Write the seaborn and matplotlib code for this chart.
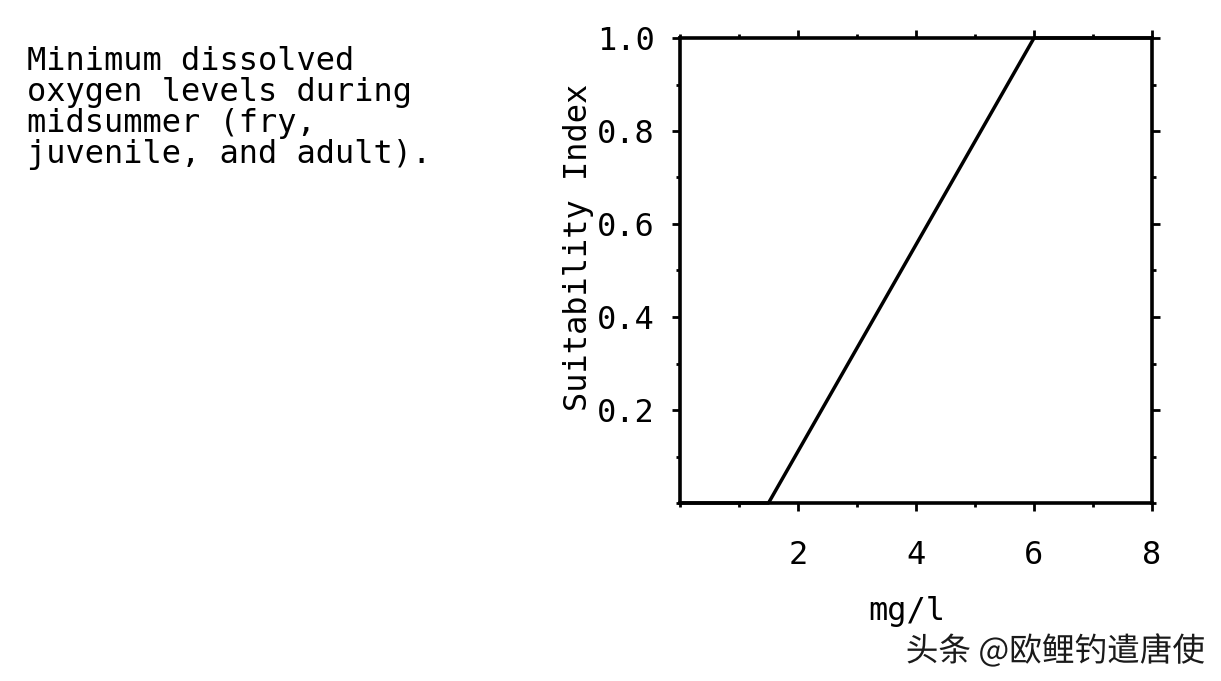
import pandas as pd
import matplotlib
matplotlib.use("Agg")
import matplotlib.pyplot as plt
import matplotlib.patheffects as pe
from matplotlib.ticker import MultipleLocator
import seaborn as sns

# Suitability index curve for minimum dissolved oxygen
oxygen_mg_l = [0.0, 1.5, 6.0, 8.0]
suitability = [0.0, 0.0, 1.0, 1.0]

x_ticks = [2, 4, 6, 8]
y_ticks = [0.2, 0.4, 0.6, 0.8, 1.0]

caption = "Minimum dissolved\noxygen levels during\nmidsummer (fry,\njuvenile, and adult)."
watermark = "头条 @欧鲤钓遣唐使"

df = pd.DataFrame({"mg_l": oxygen_mg_l, "si": suitability})

sns.set_style("white")
plt.rcParams["font.family"] = ["DejaVu Sans Mono", "Noto Sans CJK SC"]

fig = plt.figure(figsize=(12.21, 6.81), dpi=100)
ax = fig.add_axes([680 / 1221, 1 - 503 / 681, 472 / 1221, 465 / 681])

sns.lineplot(data=df, x="mg_l", y="si", ax=ax, color="black", linewidth=2.5,
             clip_on=False)

ax.set_xlim(0, 8)
ax.set_ylim(0, 1.0)
ax.set_xticks(x_ticks)
ax.set_yticks(y_ticks)
ax.set_xticklabels([str(t) for t in x_ticks])
ax.set_yticklabels([f"{t:.1f}" for t in y_ticks])
ax.xaxis.set_minor_locator(MultipleLocator(1))
ax.yaxis.set_minor_locator(MultipleLocator(0.1))

for side in ["left", "right", "top", "bottom"]:
    ax.spines[side].set_visible(True)
    ax.spines[side].set_color("black")
    ax.spines[side].set_linewidth(2.6)

ax.tick_params(which="both", direction="out", top=True, right=True,
               bottom=True, left=True, color="black", width=2.0)
ax.tick_params(which="major", length=6)
ax.tick_params(which="minor", length=3)
ax.tick_params(axis="y", which="major", labelsize=23, pad=12, labelcolor="black")
ax.tick_params(axis="x", which="major", labelsize=23, pad=21, labelcolor="black")

ax.set_xlabel("mg/l", fontsize=23, color="black")
ax.set_ylabel("Suitability Index", fontsize=23, color="black")
ax.xaxis.set_label_coords(0.481, -0.2)
ax.yaxis.set_label_coords(-0.182, 0.55)

fig.text(27 / 1221, 1 - 46 / 681, caption, fontsize=23, va="top", ha="left",
         linespacing=1.0, color="black")

fig.text(1205 / 1221, 1 - 668 / 681, watermark, fontsize=23.5, ha="right",
         va="bottom", color="#1a1a1a",
         family=["Noto Sans CJK SC", "DejaVu Sans"],
         path_effects=[pe.withStroke(linewidth=2, foreground="white")])

fig.savefig("out.png", dpi=100, facecolor="white")
